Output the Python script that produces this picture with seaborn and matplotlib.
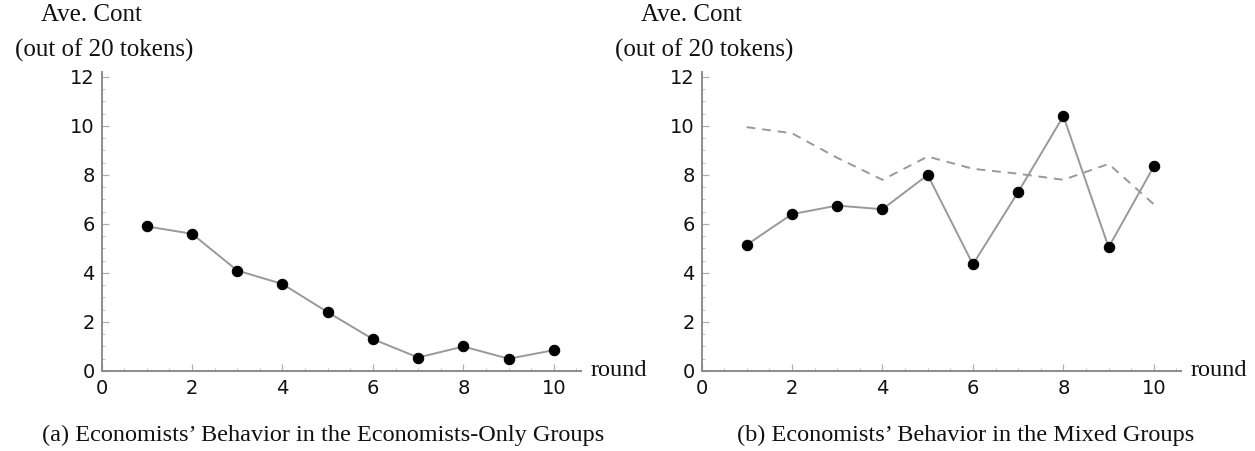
import matplotlib
matplotlib.use("Agg")
import matplotlib.pyplot as plt
from matplotlib.ticker import MultipleLocator
import numpy as np
import pandas as pd
import seaborn as sns

# Average contribution per round (out of 20 tokens)
rounds = [1, 2, 3, 4, 5, 6, 7, 8, 9, 10]
econ_only = [5.9, 5.6, 4.1, 3.55, 2.4, 1.3, 0.55, 1.0, 0.5, 0.85]
econ_mixed = [5.15, 6.4, 6.75, 6.6, 8.0, 4.35, 7.3, 10.4, 5.05, 8.35]
others_mixed = [9.95, 9.7, 8.7, 7.8, 8.75, 8.25, 8.05, 7.8, 8.45, 6.8]

x_ticks = [0, 2, 4, 6, 8, 10]
y_ticks = [0, 2, 4, 6, 8, 10, 12]
y_title = ["Ave. Cont", "(out of 20 tokens)"]
x_title = "round"
captions = [
    "(a) Economists\u2019 Behavior in the Economists-Only Groups",
    "(b) Economists\u2019 Behavior in the Mixed Groups",
]

sns.set_theme(style="white")
plt.rcParams["font.family"] = ["DejaVu Sans"]

W, H = 1255, 451
fig = plt.figure(figsize=(W / 100, H / 100), dpi=100)

AXIS_GRAY = "#8c8c8c"
LINE_GRAY = "#999999"
SERIF = ["Liberation Serif", "DejaVu Serif"]
TITLE_SIZE = 18
CAPTION_SIZE = 17.5


def px_box(x0, y0, x1, y1):
    return [x0 / W, 1 - y1 / H, (x1 - x0) / W, (y1 - y0) / H]


def style_axes(ax, left_px):
    ax.set_xlim(0, 10.6)
    ax.set_ylim(0, 12.2)
    for s in ("top", "right"):
        ax.spines[s].set_visible(False)
    for s in ("left", "bottom"):
        ax.spines[s].set_color(AXIS_GRAY)
        ax.spines[s].set_linewidth(1.4)
    ax.set_xticks(x_ticks)
    ax.set_yticks(y_ticks)
    ax.xaxis.set_minor_locator(MultipleLocator(0.5))
    ax.yaxis.set_minor_locator(MultipleLocator(0.5))
    ax.tick_params(which="major", direction="in", length=5, width=0.9,
                   color="#b0b0b0", labelsize=14, labelcolor="#111111",
                   bottom=True, left=True)
    ax.tick_params(axis="x", which="major", pad=6)
    ax.tick_params(axis="y", which="major", pad=5)
    ax.tick_params(which="minor", direction="in", length=2.5, width=0.7,
                   color="#c0c0c0", bottom=True, left=True)
    ax.set_xlabel("")
    ax.set_ylabel("")
    ax.grid(False)
    ax.set_facecolor("white")
    # axis titles
    fig.text((left_px - 10.5) / W, 1 - 15 / H, y_title[0], family=SERIF,
             fontsize=TITLE_SIZE, ha="center", va="center", color="#111111")
    fig.text((left_px + 3) / W, 1 - 50 / H, y_title[1], family=SERIF,
             fontsize=TITLE_SIZE, ha="center", va="center", color="#111111")
    ax.annotate(x_title, xy=(1.0, 0.0), xycoords="axes fraction",
                xytext=(10, 0), textcoords="offset pixels", family=SERIF,
                fontsize=CAPTION_SIZE, ha="left", va="center", color="#111111")


df_a = pd.DataFrame({"round": rounds, "cont": econ_only})
df_b = pd.DataFrame({"round": rounds, "econ": econ_mixed, "other": others_mixed})

# (a) economists-only groups
ax1 = fig.add_axes(px_box(101.5, 72, 581, 371))
sns.lineplot(data=df_a, x="round", y="cont", ax=ax1, color=LINE_GRAY,
             linewidth=1.4, marker="o", markersize=7.5,
             markerfacecolor="black", markeredgecolor="black", zorder=3)
style_axes(ax1, 101.5)

# (b) mixed groups
ax2 = fig.add_axes(px_box(701.5, 72, 1181, 371))
sns.lineplot(data=df_b, x="round", y="other", ax=ax2, color=LINE_GRAY,
             linewidth=1.4, linestyle=(0, (4.5, 3.5)), zorder=2)
sns.lineplot(data=df_b, x="round", y="econ", ax=ax2, color=LINE_GRAY,
             linewidth=1.4, marker="o", markersize=7.5,
             markerfacecolor="black", markeredgecolor="black", zorder=3)
style_axes(ax2, 701.5)

fig.text(323 / W, 1 - 435 / H, captions[0], family=SERIF, fontsize=CAPTION_SIZE,
         ha="center", va="center", color="#111111")
fig.text(966 / W, 1 - 435 / H, captions[1], family=SERIF, fontsize=CAPTION_SIZE,
         ha="center", va="center", color="#111111")

fig.savefig("out.png", dpi=100, facecolor="white")
